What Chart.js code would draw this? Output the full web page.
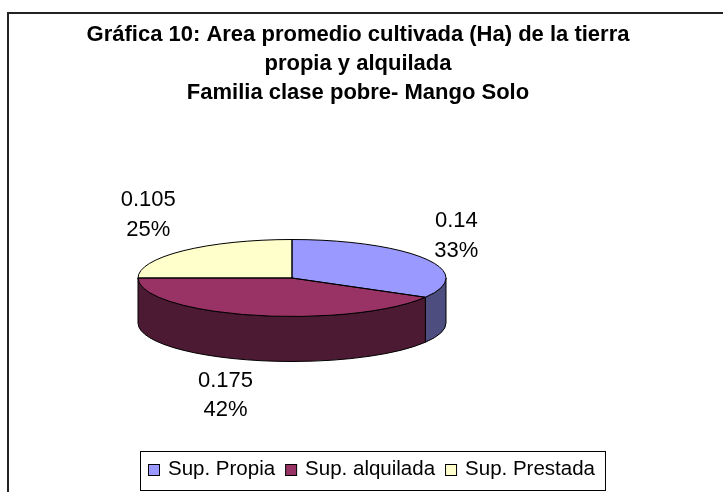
<!DOCTYPE html>
<html>
<head>
<meta charset="utf-8">
<title>Gráfica 10</title>
<script src="https://cdn.jsdelivr.net/npm/chart.js@4.4.1/dist/chart.umd.min.js"></script>
<style>
  html, body { margin: 0; padding: 0; background: #fff; overflow: hidden; }
  #chart { display: block; }
</style>
</head>
<body>
<canvas id="chart" width="723" height="492"></canvas>
<script>
'use strict';

// data
const categories = ['Sup. Propia', 'Sup. alquilada', 'Sup. Prestada'];
const areaHa = [0.14, 0.175, 0.105];
const titleLines = [
    'Gráfica 10: Area promedio cultivada (Ha) de la tierra',
    'propia y alquilada',
    'Familia clase pobre- Mango Solo'
];

const topColors = ['#9999ff', '#993366', '#ffffcc'];   // lid of the pie
const sideColors = ['#4d4d80', '#4d1a33', '#808066'];  // darker walls

const FONT = "'Liberation Sans', Arial, sans-serif";
const FLAT = 0.25;   // vertical squash of the pie
const DEPTH = 45;    // thickness of the pie in px

const total = areaHa.reduce((a, b) => a + b, 0);

function arcGeom(arc) {
    return arc.getProps(['x', 'y', 'startAngle', 'endAngle', 'outerRadius'], true);
}

// fake 3d: walls first, then let chart.js paint the slices in a squashed context
const pie3d = {
    id: 'pie3d',
    beforeDatasetsDraw(chart) {
        const c = chart.ctx;
        const arcs = chart.getDatasetMeta(0).data;
        c.save();
        c.lineWidth = 1;
        c.strokeStyle = '#000';
        arcs.forEach((arc, i) => {
            const g = arcGeom(arc);
            const a0 = Math.max(g.startAngle, 0);
            const a1 = Math.min(g.endAngle, Math.PI);
            if (a1 <= a0) return;  // back side, not visible
            const ry = g.outerRadius * FLAT;
            c.beginPath();
            c.ellipse(g.x, g.y, g.outerRadius, ry, 0, a0, a1);
            c.ellipse(g.x, g.y + DEPTH, g.outerRadius, ry, 0, a1, a0, true);
            c.closePath();
            c.fillStyle = sideColors[i];
            c.fill();
            c.stroke();
        });
        c.restore();

        const {x, y} = arcGeom(arcs[0]);
        c.save();
        c.translate(x, y);
        c.scale(1, FLAT);
        c.translate(-x, -y);
    },
    afterDatasetsDraw(chart) {
        const c = chart.ctx;
        c.restore();  // undo the squash
        const arcs = chart.getDatasetMeta(0).data;
        c.save();
        c.lineWidth = 1;
        c.strokeStyle = '#000';
        arcs.forEach((arc) => {
            const g = arcGeom(arc);
            c.beginPath();
            c.moveTo(g.x, g.y);
            c.ellipse(g.x, g.y, g.outerRadius, g.outerRadius * FLAT, 0, g.startAngle, g.endAngle);
            c.closePath();
            c.stroke();
        });
        c.restore();
    }
};

// value + percent labels outside each slice
const labelNudge = [[-8, -2], [-15, -10], [-3, -6]];
const sliceLabels = {
    id: 'sliceLabels',
    afterDatasetsDraw(chart) {
        const c = chart.ctx;
        const arcs = chart.getDatasetMeta(0).data;
        c.save();
        c.font = `22px ${FONT}`;
        c.fillStyle = '#000';
        c.textAlign = 'center';
        c.textBaseline = 'alphabetic';
        arcs.forEach((arc, i) => {
            const g = arcGeom(arc);
            const mid = (g.startAngle + g.endAngle) / 2;
            const cos = Math.cos(mid), sin = Math.sin(mid);
            let px = g.x + g.outerRadius * cos;
            let py = g.y + g.outerRadius * FLAT * sin;
            if (sin > 0) py += DEPTH;  // front slices: label under the wall
            const lx = px + 45 * cos + labelNudge[i][0];
            const ly = py + 45 * sin + labelNudge[i][1];
            const pct = Math.round(areaHa[i] / total * 100) + '%';
            c.fillText(String(areaHa[i]), lx, ly - 14.75 + 7.9);
            c.fillText(pct, lx, ly + 14.75 + 7.9);
        });
        c.restore();
    }
};

// frame, title and excel style legend box
const excelDecor = {
    id: 'excelDecor',
    beforeDraw(chart) {
        const c = chart.ctx;
        c.save();
        c.fillStyle = '#fff';
        c.fillRect(0, 0, chart.width, chart.height);
        c.strokeStyle = '#222';
        c.lineWidth = 2;
        c.beginPath();
        c.moveTo(8, chart.height + 5);
        c.lineTo(8, 13);
        c.lineTo(chart.width + 5, 13);
        c.stroke();
        c.restore();
    },
    afterDraw(chart) {
        const c = chart.ctx;
        c.save();
        c.fillStyle = '#000';
        c.textAlign = 'center';
        c.textBaseline = 'alphabetic';
        c.font = `bold 22px ${FONT}`;
        titleLines.forEach((line, i) => {
            c.fillText(line, 358, 41 + i * 29);
        });

        // legend
        c.font = `20.5px ${FONT}`;
        c.textAlign = 'left';
        const boxLeft = 140, boxTop = 451, boxH = 39;
        let x = boxLeft + 8;
        const items = categories.map((name, i) => {
            const item = {name, color: topColors[i], x};
            x += 11 + 8 + c.measureText(name).width + 11;
            return item;
        });
        const boxW = x - boxLeft;
        c.strokeStyle = '#000';
        c.lineWidth = 1;
        c.strokeRect(boxLeft + 0.5, boxTop + 0.5, boxW, boxH);
        items.forEach((it) => {
            c.fillStyle = it.color;
            c.fillRect(it.x + 0.5, 464.5, 11, 11);
            c.strokeRect(it.x + 0.5, 464.5, 11, 11);
            c.fillStyle = '#000';
            c.fillText(it.name, it.x + 20, 475);
        });
        c.restore();
    }
};

const ctx = document.getElementById('chart').getContext('2d');
const pieChart = new Chart(ctx, {
    type: 'pie',
    data: {
        labels: categories,
        datasets: [{
            data: areaHa,
            backgroundColor: topColors,
            borderWidth: 0,
            hoverOffset: 0,
            clip: false
        }]
    },
    options: {
        responsive: false,
        animation: false,
        events: [],
        // puts the pie centre at (292, 278) with a 154px radius
        layout: {padding: {left: 138, right: 277, top: 120, bottom: 56}},
        plugins: {
            legend: {display: false},
            title: {display: false},
            tooltip: {enabled: false}
        }
    },
    plugins: [excelDecor, pie3d, sliceLabels]
});
</script>
</body>
</html>
